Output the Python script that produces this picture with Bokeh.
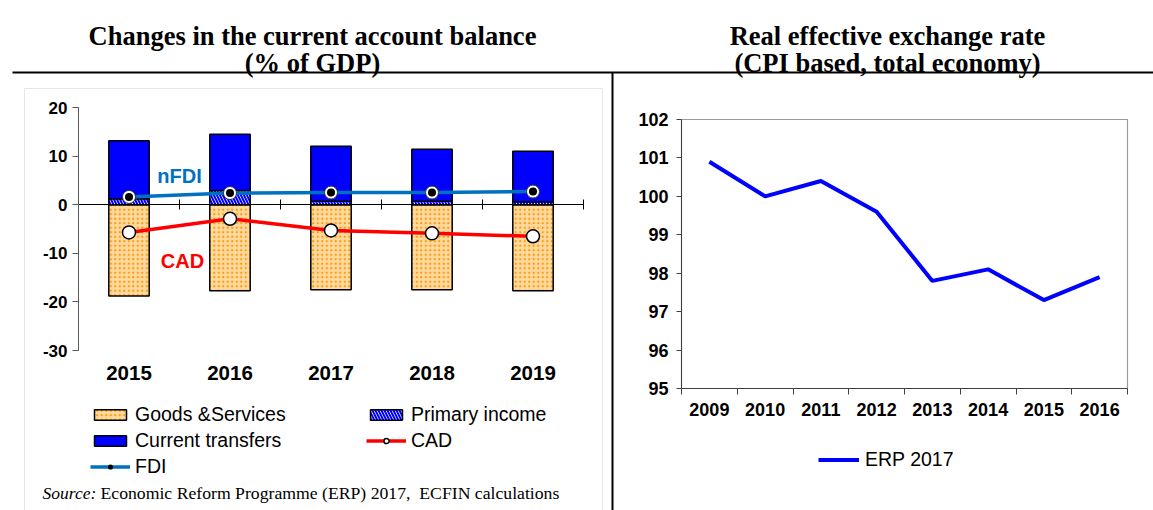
from bokeh.plotting import figure
from bokeh.models import (Range1d, LinearAxis, FixedTicker, Legend, LegendItem,
                          Label, ColumnDataSource)
from bokeh.core.properties import value
from bokeh.embed import file_html
from bokeh.resources import INLINE

# ---------------- data ----------------
years_ca = ["2015", "2016", "2017", "2018", "2019"]
goods_services = [-18.8, -17.7, -17.5, -17.5, -17.7]
primary_income = [1.2, 2.9, 0.7, 0.7, 0.6]
current_transfers = [11.95, 11.6, 11.35, 10.7, 10.4]
cad = [-5.7, -2.9, -5.3, -5.9, -6.5]
fdi = [1.6, 2.4, 2.5, 2.5, 2.7]
ca_yticks = [-30, -20, -10, 0, 10, 20]

years_reer = ["2009", "2010", "2011", "2012", "2013", "2014", "2015", "2016"]
reer_erp2017 = [100.9, 100.0, 100.4, 99.6, 97.8, 98.1, 97.3, 97.9]
reer_yticks = [95, 96, 97, 98, 99, 100, 101, 102]

title_left = ["Changes in the current account balance", "(% of GDP)"]
title_right = ["Real effective exchange rate", "(CPI based, total economy)"]

SANS = "Liberation Sans"
SERIF = "Liberation Serif"
W, H = 1153, 510


def px_range(v0, p0, v1, p1, total, downward=False):
    """Range whose values map v0->pixel p0 and v1->pixel p1 on a canvas of `total` px."""
    k = (v1 - v0) / (p1 - p0)
    at0 = v0 - p0 * k
    at_end = v0 + (total - p0) * k
    return Range1d(at_end, at0) if downward else Range1d(at0, at_end)


pos_ca = list(range(1, len(years_ca) + 1))
pos_reer = list(range(1, len(years_reer) + 1))
ca_x0, ca_x1 = pos_ca[0] - 0.5, pos_ca[-1] + 0.5
re_x0, re_x1 = pos_reer[0] - 0.5, pos_reer[-1] + 0.5
ca_lo, ca_hi = min(ca_yticks), max(ca_yticks)
re_lo, re_hi = min(reer_yticks), max(reer_yticks)

p = figure(width=W, height=H, x_range=Range1d(0, W), y_range=Range1d(H, 0),
           toolbar_location=None, output_backend="svg", min_border=0,
           outline_line_color=None, x_axis_location=None, y_axis_location=None)
p.grid.visible = False
p.extra_x_ranges = {"lx": px_range(ca_x0, 78, ca_x1, 583, W),
                    "rx": px_range(re_x0, 681, re_x1, 1127, W)}
p.extra_y_ranges = {"ly": px_range(ca_hi, 107, ca_lo, 350, H, downward=True),
                    "ry": px_range(re_hi, 119, re_lo, 388, H, downward=True)}
L = dict(x_range_name="lx", y_range_name="ly")
R = dict(x_range_name="rx", y_range_name="ry")

# ---------------- page decoration (pixel coordinates) ----------------
p.quad(left=[24], right=[602], top=[88], bottom=[H + 5], fill_color=None,
       line_color="#e6e6e6", line_width=1)
p.segment(x0=[12, 612], y0=[72, 72], x1=[W, 612], y1=[72, H], line_color="black", line_width=2)
p.text(x=[312, 312, 887, 887], y=[35, 62, 35, 62], text=title_left + title_right,
       text_font=value(SERIF), text_font_style="bold", text_font_size="26.5px",
       text_align="center", text_baseline="alphabetic", text_color="black")

# ---------------- left chart ----------------
src = ColumnDataSource(dict(
    x=pos_ca, gs=goods_services, pi=primary_income,
    ct_top=[a + b for a, b in zip(primary_income, current_transfers)],
    cad=cad, fdi=fdi))

r_gs = p.vbar(x="x", width=0.4, top=0, bottom="gs", source=src,
              fill_color="#FFD9A0", hatch_pattern="dot", hatch_color="#FF9900",
              hatch_scale=4.5, hatch_weight=3, line_color="black", line_width=1.5, **L)
r_pi = p.vbar(x="x", width=0.4, bottom=0, top="pi", source=src,
              fill_color="white", hatch_pattern="left_diagonal_line", hatch_color="#0000FF",
              hatch_scale=6, hatch_weight=2, line_color="black", line_width=1.5, **L)
r_ct = p.vbar(x="x", width=0.4, bottom="pi", top="ct_top", source=src,
              fill_color="#0000FF", line_color="black", line_width=1.5, **L)

fdi_line = p.line("x", "fdi", source=src, line_color="#0070C0", line_width=3.5, **L)
p.scatter("x", "fdi", source=src, size=13, fill_color="white",
          line_color="#333333", line_width=1, **L)
fdi_inner = p.scatter("x", "fdi", source=src, size=8, fill_color="black", line_color=None, **L)
cad_line = p.line("x", "cad", source=src, line_color="#FF0000", line_width=3.5, **L)
cad_pts = p.scatter("x", "cad", source=src, size=13, fill_color="white",
                    line_color="black", line_width=1.5, **L)

p.add_layout(Label(x=1.5, y=6, text="nFDI", text_color="#0070C0", text_font=SANS,
                   text_font_style="bold", text_font_size="20px",
                   text_align="center", text_baseline="middle", **L))
p.add_layout(Label(x=1.53, y=-11.5, text="CAD", text_color="#FF0000", text_font=SANS,
                   text_font_style="bold", text_font_size="20px",
                   text_align="center", text_baseline="middle", **L))

ly_axis = LinearAxis(fixed_location=ca_x0, bounds=(ca_lo, ca_hi),
                     ticker=FixedTicker(ticks=ca_yticks),
                     major_label_overrides={t: str(t) for t in ca_yticks},
                     major_label_text_font=SANS, major_label_text_font_style="bold",
                     major_label_text_font_size="17px", major_label_text_color="black",
                     axis_line_color="#595959", major_tick_line_color="#595959",
                     major_tick_out=6, major_tick_in=0, minor_tick_line_color=None,
                     major_label_standoff=5, **L)
p.add_layout(ly_axis, "left")

zero_axis = LinearAxis(fixed_location=0, bounds=(ca_x0, ca_x1),
                       ticker=FixedTicker(ticks=[], minor_ticks=[v - 0.5 for v in pos_ca] + [ca_x1]),
                       axis_line_color="black", major_tick_line_color=None,
                       minor_tick_line_color="black", minor_tick_in=5, minor_tick_out=5, **L)
p.add_layout(zero_axis, "below")

year_axis = LinearAxis(fixed_location=ca_lo, bounds=(ca_x0, ca_x1),
                       ticker=FixedTicker(ticks=pos_ca),
                       major_label_overrides={v: y for v, y in zip(pos_ca, years_ca)},
                       axis_line_color=None, major_tick_line_color=None, major_tick_out=0,
                       minor_tick_line_color=None, minor_tick_out=0,
                       major_label_text_font=SANS, major_label_text_font_style="bold",
                       major_label_text_font_size="20.5px", major_label_text_color="black",
                       major_label_standoff=15, **L)
p.add_layout(year_axis, "below")

leg_left = Legend(items=[
    LegendItem(label="Goods &Services", renderers=[r_gs]),
    LegendItem(label="Current transfers", renderers=[r_ct]),
    LegendItem(label="FDI", renderers=[fdi_line, fdi_inner]),
    LegendItem(label="Primary income", renderers=[r_pi]),
    LegendItem(label="CAD", renderers=[cad_line, cad_pts]),
], ncols=2, orientation="vertical", location=(90, 32),
    glyph_width=40, glyph_height=13, label_standoff=5, label_width=228, spacing=3,
    padding=5, margin=0, border_line_color=None, background_fill_alpha=0,
    label_text_font=SANS, label_text_font_size="19.5px", label_text_color="black")
p.add_layout(leg_left)

p.add_layout(Label(x=42, y=492, text="Source:", text_font=SERIF, text_font_style="italic",
                   text_font_size="17.5px", text_baseline="alphabetic", text_color="black"))
p.add_layout(Label(x=100, y=492,
                   text="Economic Reform Programme (ERP) 2017,\u00a0 ECFIN calculations",
                   text_font=SERIF, text_font_size="17.7px",
                   text_baseline="alphabetic", text_color="black"))

# ---------------- right chart ----------------
p.quad(left=[re_x0], right=[re_x1], bottom=[re_lo], top=[re_hi], fill_color=None,
       line_color="#9a9a9a", line_width=1.2, **R)
r_reer = p.line(pos_reer, reer_erp2017, line_color="#0000FF", line_width=4, **R)

ry_axis = LinearAxis(fixed_location=re_x0, bounds=(re_lo, re_hi),
                     ticker=FixedTicker(ticks=reer_yticks),
                     major_label_text_font=SANS, major_label_text_font_style="bold",
                     major_label_text_font_size="18px", major_label_text_color="black",
                     axis_line_color="#404040", major_tick_line_color="#404040",
                     major_tick_out=5, major_tick_in=0, minor_tick_line_color=None,
                     major_label_standoff=8, **R)
p.add_layout(ry_axis, "left")

rx_axis = LinearAxis(fixed_location=re_lo, bounds=(re_x0, re_x1),
                     ticker=FixedTicker(ticks=pos_reer,
                                        minor_ticks=[v - 0.5 for v in pos_reer] + [re_x1]),
                     major_label_overrides={v: y for v, y in zip(pos_reer, years_reer)},
                     axis_line_color="#404040", major_tick_line_color=None, major_tick_out=0,
                     minor_tick_line_color="#404040", minor_tick_out=6, minor_tick_in=0,
                     major_label_text_font=SANS, major_label_text_font_style="bold",
                     major_label_text_font_size="18px", major_label_text_color="black",
                     major_label_standoff=8, **R)
p.add_layout(rx_axis, "below")

leg_right = Legend(items=[LegendItem(label="ERP 2017", renderers=[r_reer])],
                   location=(818, 39), glyph_width=41, glyph_height=13, label_standoff=6,
                   padding=5, margin=0, border_line_color=None, background_fill_alpha=0,
                   label_text_font=SANS, label_text_font_size="19.5px", label_text_color="black")
p.add_layout(leg_right)

open("out.html", "w").write(file_html(p, INLINE))
